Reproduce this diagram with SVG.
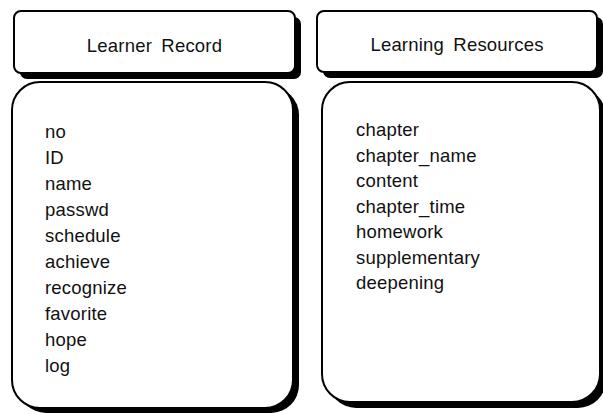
<svg xmlns="http://www.w3.org/2000/svg" width="603" height="414" viewBox="0 0 603 414">
<style>
.sh{fill:#000;stroke:none}
.bx{fill:#fff;stroke:#000;stroke-width:2}
.t{font-family:"Liberation Sans",Arial,sans-serif;font-size:18.5px;letter-spacing:0.2px;fill:#111}
.h{text-anchor:middle;word-spacing:4px}
</style>
<rect width="603" height="414" fill="#fff"/>
<g id="learner-record-header">
<rect class="sh" x="20" y="17" width="281" height="62" rx="7"/>
<rect class="bx" x="14" y="11" width="281" height="62" rx="7"/>
<text class="t h" x="154.5" y="52">Learner Record</text>
</g>
<g id="learning-resources-header">
<rect class="sh" x="323" y="17" width="280" height="61" rx="7"/>
<rect class="bx" x="317" y="11" width="280" height="61" rx="7"/>
<text class="t h" x="457" y="51">Learning Resources</text>
</g>
<g id="learner-record-body">
<rect class="sh" x="18" y="87" width="281" height="326" rx="28"/>
<rect class="bx" x="12" y="82" width="281" height="326" rx="28"/>
<text class="t" x="45" y="138">no</text>
<text class="t" x="45" y="164">ID</text>
<text class="t" x="45" y="190">name</text>
<text class="t" x="45" y="216">passwd</text>
<text class="t" x="45" y="242">schedule</text>
<text class="t" x="45" y="268">achieve</text>
<text class="t" x="45" y="294">recognize</text>
<text class="t" x="45" y="320">favorite</text>
<text class="t" x="45" y="346">hope</text>
<text class="t" x="45" y="372">log</text>
</g>
<g id="learning-resources-body">
<rect class="sh" x="328" y="88" width="278" height="320" rx="28"/>
<rect class="bx" x="322" y="82" width="278" height="320" rx="28"/>
<text class="t" x="356" y="136">chapter</text>
<text class="t" x="356" y="161.5">chapter_name</text>
<text class="t" x="356" y="187">content</text>
<text class="t" x="356" y="212.5">chapter_time</text>
<text class="t" x="356" y="238">homework</text>
<text class="t" x="356" y="263.5">supplementary</text>
<text class="t" x="356" y="289">deepening</text>
</g>
<g id="connectors"></g>
</svg>
